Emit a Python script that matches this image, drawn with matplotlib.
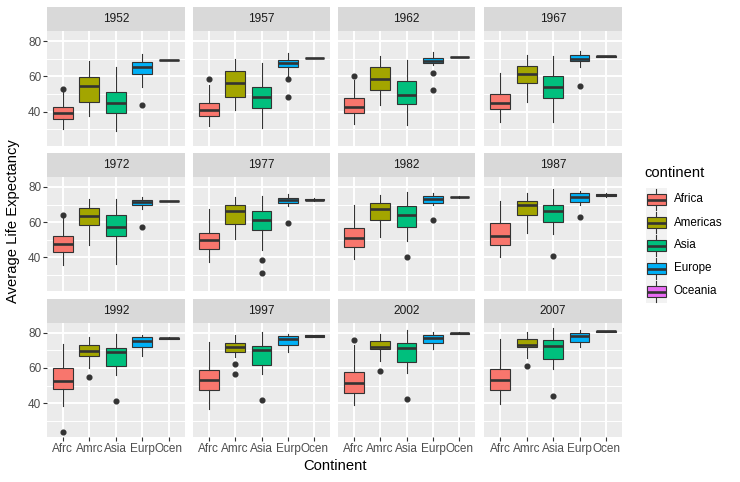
import matplotlib
matplotlib.use("Agg")
import matplotlib.pyplot as plt
from matplotlib.patches import Rectangle
from matplotlib.lines import Line2D

plt.rcParams['font.family'] = ['Liberation Sans', 'DejaVu Sans']

years = [1952, 1957, 1962, 1967, 1972, 1977, 1982, 1987, 1992, 1997, 2002, 2007]
continents = ["Africa", "Americas", "Asia", "Europe", "Oceania"]
tick_labels = ["Afrc", "Amrc", "Asia", "Eurp", "Ocen"]
colors = ["#F8766D", "#A3A500", "#00BF7D", "#00B0F6", "#E76BF3"]

# five-number box stats per year: (whisker low, Q1, median, Q3, whisker high)
africa_box = [
    (30.2, 36.0, 39.2, 42.5, 51.3), (31.7, 37.5, 40.9, 45.1, 54.9),
    (33.0, 39.4, 42.5, 47.9, 57.9), (34.3, 41.3, 44.7, 49.8, 61.7),
    (35.7, 43.2, 47.5, 51.9, 63.0), (37.2, 44.5, 49.6, 53.8, 67.2),
    (38.9, 45.7, 51.1, 56.8, 70.0), (40.0, 47.0, 52.1, 59.6, 71.9),
    (38.5, 47.9, 52.6, 59.8, 73.4), (36.4, 47.4, 53.0, 59.1, 74.7),
    (39.2, 45.8, 51.3, 57.7, 73.2), (39.8, 47.7, 53.4, 59.4, 76.2),
]
africa_out = [[52.8], [58.3], [60.4], [], [64.3], [], [], [], [23.6], [], [75.7], []]

americas_box = [
    (37.6, 45.5, 54.8, 59.5, 68.7), (40.9, 48.5, 56.2, 62.9, 70.0),
    (43.6, 52.5, 58.5, 65.3, 71.5), (45.3, 56.1, 61.2, 66.1, 72.3),
    (47.0, 58.3, 63.6, 68.1, 73.0), (50.2, 58.7, 66.6, 69.6, 74.2),
    (51.7, 61.5, 67.7, 70.9, 75.7), (54.0, 64.3, 69.6, 72.1, 76.8),
    (60.2, 66.8, 69.4, 72.8, 77.7), (66.2, 69.2, 71.9, 74.3, 78.5),
    (64.0, 70.8, 72.1, 75.3, 79.4), (65.5, 71.7, 73.2, 76.4, 80.6),
]
americas_out = [[], [], [], [], [], [], [], [], [55.1], [62.1, 56.6], [58.3], [60.9]]

asia_box = [
    (28.8, 39.4, 45.1, 51.1, 65.4), (30.6, 41.9, 48.5, 54.2, 67.8),
    (32.1, 44.5, 49.6, 57.2, 69.3), (34.3, 47.9, 53.8, 60.2, 71.5),
    (36.2, 52.1, 57.4, 64.0, 73.4), (44.2, 55.5, 61.1, 66.2, 75.1),
    (49.4, 57.5, 64.0, 69.1, 77.2), (53.0, 60.2, 66.6, 70.0, 78.7),
    (55.8, 60.9, 69.2, 71.1, 79.4), (56.6, 61.9, 70.4, 72.5, 80.6),
    (57.2, 63.6, 71.1, 74.3, 81.7), (59.4, 65.3, 72.6, 75.7, 82.6),
]
asia_out = [[], [], [], [], [], [38.5, 31.2], [40.0], [40.9], [41.5], [41.7], [42.1], [43.8]]

europe_box = [
    (54.2, 61.3, 65.3, 68.1, 72.7), (59.3, 65.1, 67.4, 69.5, 73.4),
    (66.3, 67.4, 68.9, 70.6, 73.8), (65.1, 68.9, 69.8, 71.9, 74.2),
    (67.7, 69.6, 71.3, 72.6, 74.3), (69.4, 70.8, 72.8, 74.0, 76.0),
    (69.6, 71.1, 73.0, 74.9, 76.8), (70.0, 71.3, 74.3, 76.6, 77.5),
    (66.6, 71.7, 75.1, 77.4, 78.9), (69.1, 72.8, 76.4, 78.1, 79.4),
    (70.9, 74.2, 77.0, 78.9, 80.4), (72.1, 74.7, 78.1, 80.0, 81.8),
]
europe_out = [[43.6], [58.5, 48.1], [62.1, 52.3], [54.5], [57.2], [59.5], [61.1], [63.2], [], [], [], []]

oceania_box = [
    (69.12, 69.19, 69.26, 69.32, 69.39), (70.26, 70.28, 70.30, 70.31, 70.33),
    (70.93, 71.01, 71.09, 71.16, 71.24), (71.10, 71.21, 71.31, 71.42, 71.52),
    (71.89, 71.90, 71.91, 71.92, 71.93), (72.22, 72.54, 72.86, 73.17, 73.49),
    (73.84, 74.07, 74.29, 74.52, 74.74), (74.32, 74.82, 75.32, 75.82, 76.32),
    (76.33, 76.64, 76.95, 77.25, 77.56), (77.55, 77.87, 78.19, 78.51, 78.83),
    (79.11, 79.43, 79.74, 80.06, 80.37), (80.20, 80.46, 80.72, 80.98, 81.24),
]
oceania_out = [[] for _ in years]

all_box = [africa_box, americas_box, asia_box, europe_box, oceania_box]
all_out = [africa_out, americas_out, asia_out, europe_out, oceania_out]

y_ticks = [40, 60, 80]
y_minor = [30, 50, 70]

W, H = 740, 482
fig = plt.figure(figsize=(W / 100, H / 100), dpi=100)
fig.patch.set_facecolor("white")

col_left = [47.0, 192.7, 337.7, 484.3]
panel_w = 137.6
row_top = [7.0, 152.8, 298.6]
strip_h = 24.4
panel_h = 114.2

def fx(px):
    return px / W

def fy(py):
    return 1 - py / H

GREY20 = "#333333"

for i, yr in enumerate(years):
    r, c = divmod(i, 4)
    x0 = col_left[c]
    st = row_top[r]
    # strip
    sax = fig.add_axes([fx(x0), fy(st + strip_h), panel_w / W, strip_h / H])
    sax.set_facecolor("#D9D9D9")
    sax.set_xticks([]); sax.set_yticks([])
    for s in sax.spines.values():
        s.set_visible(False)
    sax.text(0.5, 0.5, str(yr), ha="center", va="center", fontsize=8.6,
             color="#1A1A1A", transform=sax.transAxes)
    # panel
    pt = st + strip_h
    ax = fig.add_axes([fx(x0), fy(pt + panel_h), panel_w / W, panel_h / H])
    ax.set_facecolor("#EBEBEB")
    for s in ax.spines.values():
        s.set_visible(False)
    ax.set_xlim(0.4, 5.6)
    ax.set_ylim(20.65, 85.55)
    for v in y_minor:
        ax.axhline(v, color="white", lw=0.7, zorder=0.5)
    for v in y_ticks:
        ax.axhline(v, color="white", lw=1.4, zorder=0.6)
    for k in range(1, 6):
        ax.axvline(k, color="white", lw=1.4, zorder=0.6)

    stats = []
    for j in range(5):
        lo, q1, med, q3, hi = all_box[j][i]
        stats.append(dict(whislo=lo, q1=q1, med=med, q3=q3, whishi=hi,
                          fliers=all_out[j][i]))
    bp = ax.bxp(stats, positions=[1, 2, 3, 4, 5], widths=0.75,
                patch_artist=True, showcaps=False, manage_ticks=False,
                boxprops=dict(edgecolor=GREY20, linewidth=0.8),
                medianprops=dict(color=GREY20, linewidth=1.9, solid_capstyle="butt"),
                whiskerprops=dict(color=GREY20, linewidth=0.8),
                flierprops=dict(marker="o", markersize=3.4, markerfacecolor=GREY20,
                                markeredgecolor=GREY20, linestyle="none"))
    for patch, col in zip(bp["boxes"], colors):
        patch.set_facecolor(col)
        patch.set_zorder(2)
    for m in bp["medians"]:
        m.set_zorder(3)

    ax.set_xticks([1, 2, 3, 4, 5])
    ax.set_yticks(y_ticks)
    ax.tick_params(axis="both", length=2.6, width=0.8, color=GREY20,
                   labelsize=8.5, labelcolor="#4D4D4D", pad=1.5)
    if r == 2:
        ax.set_xticklabels(tick_labels)
    else:
        ax.tick_params(axis="x", length=0, labelbottom=False)
    if c == 0:
        ax.set_yticklabels([str(v) for v in y_ticks])
    else:
        ax.tick_params(axis="y", length=0, labelleft=False)

# axis titles
fig.text(fx(334.5), fy(466), "Continent", ha="center", va="center",
         fontsize=10.6, color="black")
fig.text(fx(13), fy(221), "Average Life Expectancy", ha="center", va="center",
         rotation=90, fontsize=10.6, color="black")

# legend
lg = fig.add_axes([0, 0, 1, 1])
lg.set_xlim(0, W); lg.set_ylim(H, 0)
lg.axis("off")
lg.text(644, 173, "continent", ha="left", va="center", fontsize=10.6, color="black")
key_cy = [199.5, 222.5, 245.5, 268.5, 291.5]
for name, col, cy in zip(continents, colors, key_cy):
    lg.add_patch(Rectangle((645.5, cy - 11.5), 21, 23, facecolor="#F2F2F2",
                           edgecolor="none", zorder=1))
    lg.add_line(Line2D([656, 656], [cy - 10.5, cy + 10.5], color=GREY20, lw=0.8, zorder=2))
    lg.add_patch(Rectangle((646.5, cy - 5.5), 19, 11, facecolor=col,
                           edgecolor=GREY20, lw=0.8, zorder=3))
    lg.add_line(Line2D([646.5, 665.5], [cy, cy], color=GREY20, lw=1.9,
                       solid_capstyle="butt", zorder=4))
    lg.text(674, cy, name, ha="left", va="center", fontsize=8.4, color="black")

fig.savefig("out.png", dpi=100, facecolor="white")
